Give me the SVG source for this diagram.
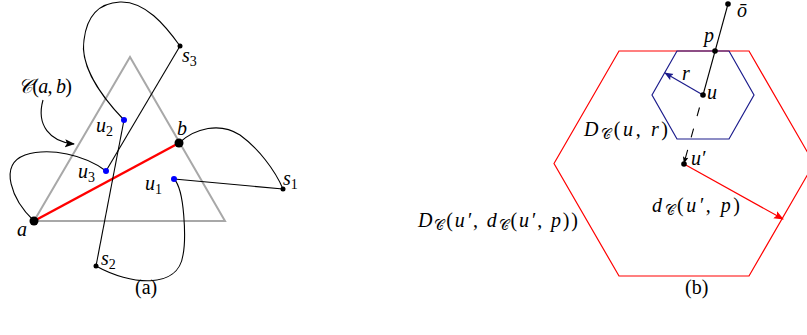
<svg xmlns="http://www.w3.org/2000/svg" width="807" height="335" viewBox="0 0 807 335">
<style>
text{font-family:"Liberation Serif","DejaVu Serif",serif;font-size:20px;fill:#000}
.m{font-style:italic}
.n{font-style:normal}
.sub{font-size:14px;font-style:normal}
.cur{fill:none;stroke:#000;stroke-width:1.1}
.tri{fill:none;stroke:#a8a8a8;stroke-width:2}
.red{stroke:#ff0000;fill:none}
.blue{stroke:#1c1c8c;fill:none}
</style>
<defs>
<marker id="ak" viewBox="0 0 10 10" refX="9" refY="5" markerWidth="7" markerHeight="7" markerUnits="userSpaceOnUse" orient="auto"><path d="M0,1 L10,5 L0,9 L2,5 Z" fill="#000"/></marker>
<marker id="ab" viewBox="0 0 10 10" refX="9" refY="5" markerWidth="9" markerHeight="9" markerUnits="userSpaceOnUse" orient="auto"><path d="M0,1 L10,5 L0,9 L2,5 Z" fill="#1c1c8c"/></marker>
<marker id="ar" viewBox="0 0 10 10" refX="9" refY="5" markerWidth="10" markerHeight="10" markerUnits="userSpaceOnUse" orient="auto"><path d="M0,1 L10,5 L0,9 L2,5 Z" fill="#ff0000"/></marker>
<marker id="ac" viewBox="0 0 10 10" refX="9" refY="5" markerWidth="10" markerHeight="10" markerUnits="userSpaceOnUse" orient="auto"><path d="M0,1 L10,5 L0,9 L2,5 Z" fill="#000"/></marker>
</defs>

<!-- Panel (a) -->
<g id="triangle"><polygon class="tri" points="34,221 130,57 225,221"/></g>
<g id="connectors-a">
<line x1="34" y1="221" x2="179" y2="143" stroke="#ff0000" stroke-width="2.5"/>
<path class="cur" d="M34,221 C12,200 -2,165 25,155 C50,147 85,155 106,171"/>
<path class="cur" d="M179,143 C195,128 220,122 240,135 C258,148 275,170 283,189"/>
<path class="cur" d="M174,179 C185,190 186,240 183,255 C178,290 130,285 96,266"/>
<path class="cur" d="M124,120 C100,95 80,65 84,40 C87,15 100,3 120,2 C145,1 165,25 180,46"/>
<line class="cur" x1="174" y1="179" x2="283" y2="189"/>
<line class="cur" x1="124" y1="120" x2="96" y2="266"/>
<line class="cur" x1="106" y1="171" x2="180" y2="46"/>
<path class="cur" d="M43,100 C36,125 50,142 74,144" marker-end="url(#ac)"/>
</g>
<g id="node-a"><circle cx="34" cy="221" r="4.5"/><text class="m" x="17" y="236">a</text></g>
<g id="node-b"><circle cx="179" cy="143" r="4.5"/><text class="m" x="177" y="135">b</text></g>
<g id="node-u1"><circle cx="174" cy="179" r="3" fill="#0000ff"/><text x="145" y="190"><tspan class="m">u</tspan><tspan class="sub" dy="4">1</tspan></text></g>
<g id="node-u2"><circle cx="124" cy="120" r="3" fill="#0000ff"/><text x="96" y="132"><tspan class="m">u</tspan><tspan class="sub" dy="4">2</tspan></text></g>
<g id="node-u3"><circle cx="106" cy="171" r="3" fill="#0000ff"/><text x="78" y="178"><tspan class="m">u</tspan><tspan class="sub" dy="4">3</tspan></text></g>
<g id="node-s1"><circle cx="283" cy="189" r="2.5"/><text x="283" y="185"><tspan class="m">s</tspan><tspan class="sub" dy="4">1</tspan></text></g>
<g id="node-s2"><circle cx="96" cy="266" r="2.5"/><text x="101" y="265"><tspan class="m">s</tspan><tspan class="sub" dy="4">2</tspan></text></g>
<g id="node-s3"><circle cx="180" cy="46" r="2.5"/><text x="182" y="62"><tspan class="m">s</tspan><tspan class="sub" dy="4">3</tspan></text></g>
<g id="label-C"><text x="18" y="93" textLength="54"><tspan class="m">𝒞</tspan><tspan class="n">(</tspan><tspan class="m">a</tspan><tspan class="n">, </tspan><tspan class="m">b</tspan><tspan class="n">)</tspan></text></g>
<text x="135" y="294">(a)</text>

<!-- Panel (b) -->
<g id="hex-big"><polygon class="red" stroke-width="1.2" points="554,163.5 619,51 749,51 814,163.5 749,276 619,276"/></g>
<g id="hex-small"><polygon class="blue" stroke-width="1.2" points="652,95 677,51 729,51 754,95 729,139 677,139"/></g>
<g id="connectors-b">
<line class="cur" x1="703" y1="95" x2="728" y2="4"/>
<line x1="703" y1="95" x2="684" y2="163" stroke="#000" stroke-width="1.1" stroke-dasharray="9 13" stroke-dashoffset="9" marker-end="url(#ak)"/>
<line class="blue" stroke-width="1.2" x1="703" y1="95" x2="665" y2="73" marker-end="url(#ab)"/>
<line class="red" stroke-width="1.2" x1="684" y1="164" x2="783" y2="219" marker-end="url(#ar)"/>
</g>
<g id="node-o"><circle cx="728" cy="4" r="2.8"/><text class="m" x="737" y="17" font-size="16">ō</text></g>
<g id="node-p"><circle cx="715" cy="51" r="2.8"/><text class="m" x="704" y="42">p</text></g>
<g id="node-u"><circle cx="703" cy="95" r="2.8"/><text class="m" x="707" y="99">u</text></g>
<g id="node-u-prime"><circle cx="684" cy="164" r="2.8"/><text class="m" x="691" y="165">u′</text></g>
<text class="m" x="682" y="80">r</text>
<text x="584" y="136" textLength="84"><tspan class="m">D</tspan><tspan class="sub m" dy="3">𝒞</tspan><tspan class="n" dy="-3">(</tspan><tspan class="m">u</tspan><tspan class="n">, </tspan><tspan class="m">r</tspan><tspan class="n">)</tspan></text>
<text x="652" y="212" textLength="88"><tspan class="m">d</tspan><tspan class="sub m" dy="3">𝒞</tspan><tspan class="n" dy="-3">(</tspan><tspan class="m">u′</tspan><tspan class="n">, </tspan><tspan class="m">p</tspan><tspan class="n">)</tspan></text>
<text x="418" y="227" textLength="160"><tspan class="m">D</tspan><tspan class="sub m" dy="3">𝒞</tspan><tspan class="n" dy="-3">(</tspan><tspan class="m">u′</tspan><tspan class="n">, </tspan><tspan class="m">d</tspan><tspan class="sub m" dy="3">𝒞</tspan><tspan class="n" dy="-3">(</tspan><tspan class="m">u′</tspan><tspan class="n">, </tspan><tspan class="m">p</tspan><tspan class="n">))</tspan></text>
<text x="685" y="294">(b)</text>
</svg>
